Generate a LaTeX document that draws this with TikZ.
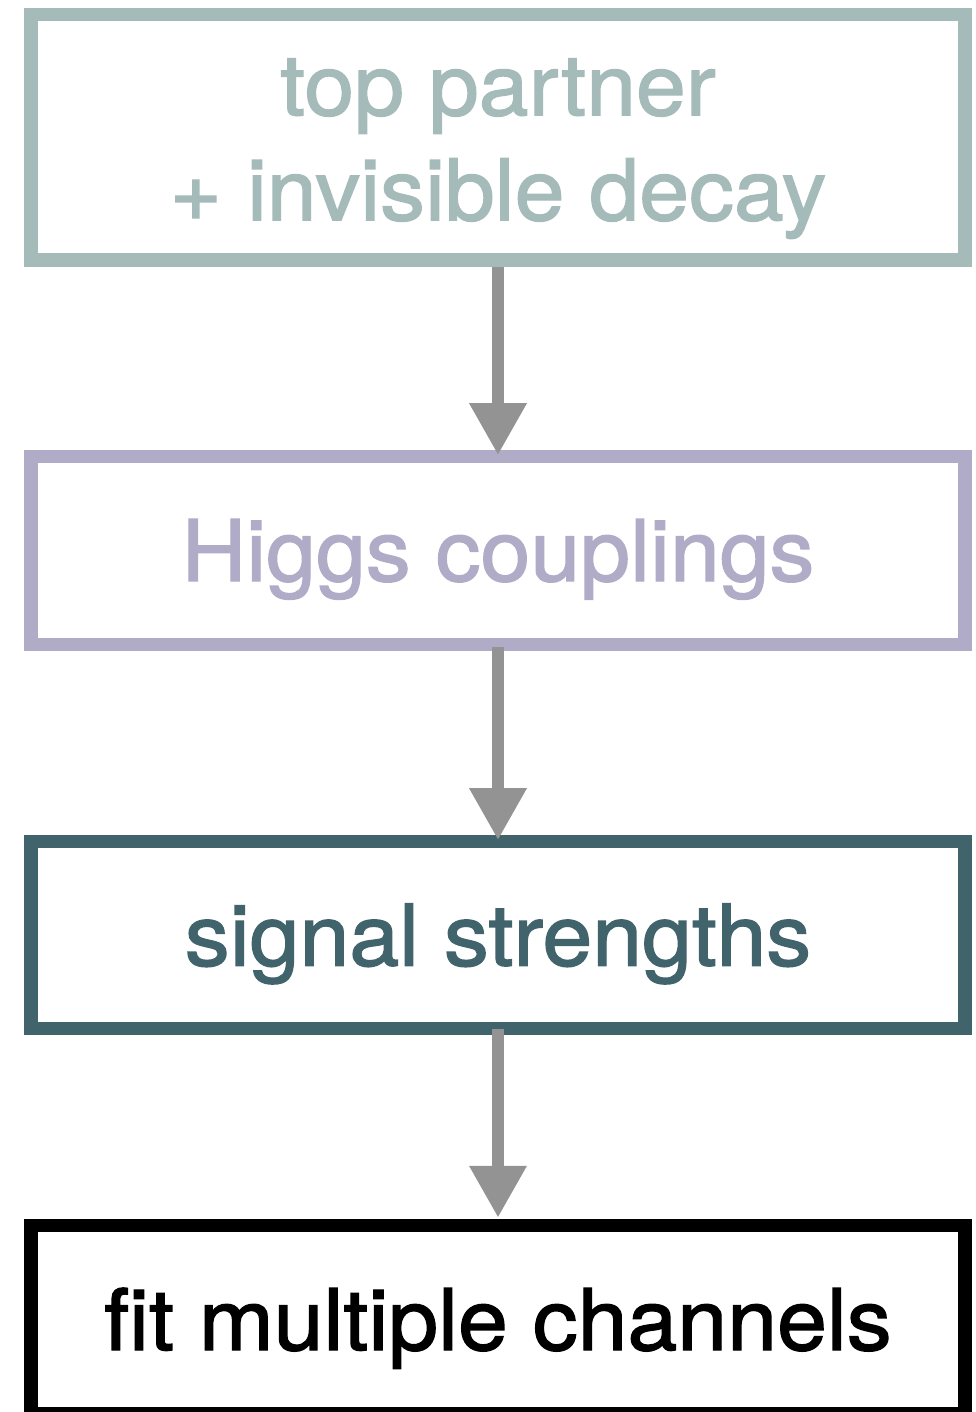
\documentclass[tikz,border=0pt]{standalone}
\usepackage{fontspec}
\usetikzlibrary{arrows.meta}
\newfontfamily\heros[FakeStretch=1.055,FakeBold=1.6]{TeX Gyre Heros}
\definecolor{topc}{RGB}{165,187,186}
\definecolor{higgsc}{RGB}{176,171,199}
\definecolor{sigc}{RGB}{65,99,107}
\definecolor{arrc}{RGB}{147,147,147}
\tikzset{
  stagebox/.style={draw=#1, text=#1, line width=13.3pt, outer sep=0pt,
    minimum width=934pt, inner sep=0pt, align=center,
    font=\heros\fontsize{85}{105}\selectfont, text height=61pt, text depth=0pt},
  flowarrow/.style={draw=arrc, line width=12.7pt,
    -{Triangle[length=52pt,width=54pt]}}
}
\begin{document}
\begin{tikzpicture}[x=1pt,y=-1pt]
\useasboundingbox (0,0) rectangle (976,1412);
\node[stagebox=topc, minimum height=245.5pt, text height=166pt] (top) at (498,137.25) {top partner\\+ invisible decay};
\node[stagebox=higgsc, minimum height=187.6pt] (higgs) at (498,550.5) {Higgs couplings};
\node[stagebox=sigc, minimum height=186.8pt] (sig) at (498,935.1) {signal strengths};
\node[stagebox=black, minimum height=187.5pt] (fit) at (498,1319.55) {fit multiple channels};
\draw[flowarrow] ([yshift=-6.6pt]top.south) -- ([yshift=1.5pt]higgs.north);
\draw[flowarrow] ([yshift=-3pt]higgs.south) -- ([yshift=1.5pt]sig.north);
\draw[flowarrow] (sig.south) -- ([yshift=8pt]fit.north);
\end{tikzpicture}
\end{document}
